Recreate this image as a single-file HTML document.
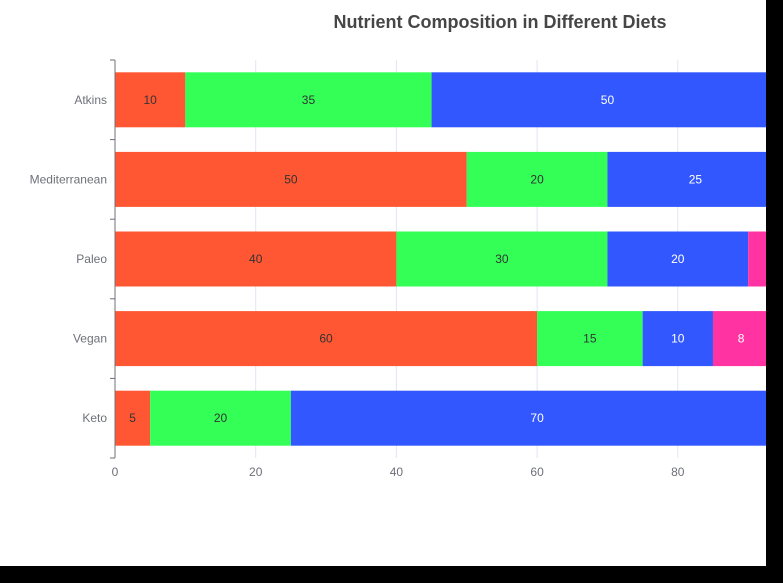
<!DOCTYPE html>
<html><head><meta charset="utf-8"><style>
html,body{margin:0;padding:0;background:#000;}
svg{display:block;font-family:"Liberation Sans",sans-serif;}
</style></head><body>
<svg id="c" width="783" height="583">
<rect x="0" y="0" width="766" height="566" fill="#fff"/>
<text x="500" y="28" text-anchor="middle" font-size="18" font-weight="bold" fill="#464646">Nutrient Composition in Different Diets</text>
<g id="grid"></g><g id="bars"></g><g id="axes"></g>
</svg>
<script>
const categories = ["Atkins","Mediterranean","Paleo","Vegan","Keto"];
const seriesNames = ["Carbs","Protein","Fat","Other"];
const carbs = [10,50,40,60,5];
const protein = [35,20,30,15,20];
const fat = [50,25,20,10,70];
const other = [5,5,10,8,5];
const xTicks = [0,20,40,60,80,100];
const colors = ["#FF5733","#33FF57","#3357FF","#FF33A1"];
const textColors = ["#333","#333","#fff","#fff"];
const series = [carbs,protein,fat,other];

const x0=115, pxPer=7.035, yTop=60, band=79.6, barH=55;
const clipR=766;
const X=v=>x0+v*pxPer;
const Yc=i=>yTop+band*(i+0.5);
const NS="http://www.w3.org/2000/svg";
function mk(tag,attrs,parent){const e=document.createElementNS(NS,tag);for(const k in attrs)e.setAttribute(k,attrs[k]);parent.appendChild(e);return e;}
const grid=document.getElementById('grid'),bars=document.getElementById('bars'),axes=document.getElementById('axes');
const yBot=yTop+band*categories.length;
xTicks.forEach(t=>{
  const x=X(t); if(x>clipR) return;
  if(t>0){const g=mk('line',{x1:x,x2:x,y1:yTop,y2:yBot,stroke:'#e0e6f1','stroke-width':1},grid);
  
  }
  const l=mk('text',{x:x,y:yBot+18,'text-anchor':'middle','font-size':12,fill:'#6e7079'},axes);
  l.textContent=t;
  
  
});
const ax=mk('line',{x1:x0,x2:x0,y1:yTop,y2:yBot,stroke:'#6e7079','stroke-width':1},axes);


for(let i=0;i<=categories.length;i++){
  const y=yTop+band*i;
  const tk=mk('line',{x1:x0-5,x2:x0,y1:y,y2:y,stroke:'#6e7079'},axes);
  
  
}
categories.forEach((c,i)=>{
  const t=mk('text',{x:x0-8,y:Yc(i)+4,'text-anchor':'end','font-size':12,fill:'#6e7079'},axes);
  t.textContent=c;
  
  
  let acc=0;
  series.forEach((s,k)=>{
    const v=s[i]; const xa=X(acc), xb=X(acc+v); acc+=v;
    if(xa>=clipR) return;
    const w=Math.min(xb,clipR)-xa;
    const r=mk('rect',{x:xa,y:Yc(i)-barH/2,width:w,height:barH,fill:colors[k]},bars);
    
    
    const cx=(xa+xb)/2;
    if(cx<clipR-5){
      const lb=mk('text',{x:cx,y:Yc(i)+4,'text-anchor':'middle','font-size':12,fill:textColors[k]},bars);
      lb.textContent=v;
      
      
    }
  });
});
</script>
</body></html>
